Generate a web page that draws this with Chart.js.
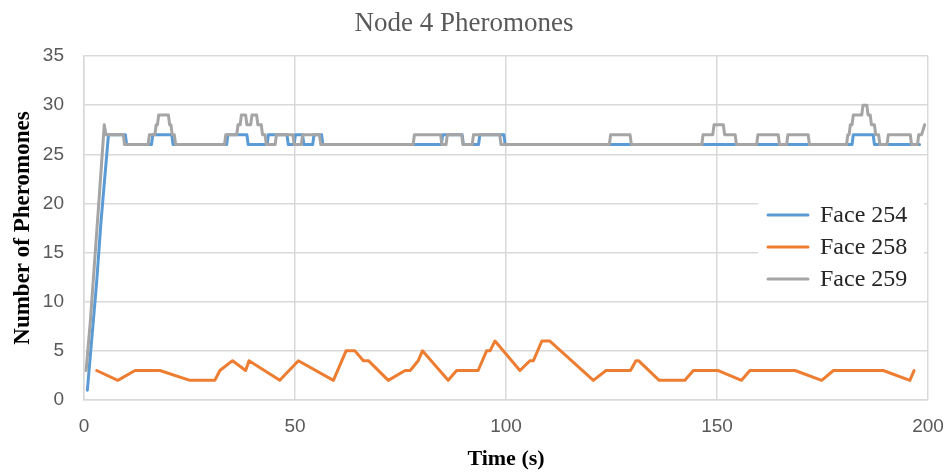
<!DOCTYPE html>
<html>
<head>
<meta charset="utf-8">
<script src="https://cdn.jsdelivr.net/npm/chart.js"></script>
<style>
  html, body { margin: 0; padding: 0; background: #fff; }
  #wrap { width: 952px; height: 476px; }
</style>
</head>
<body>
<div id="wrap"><canvas id="chart" width="952" height="476"></canvas></div>
<script>
// values, [time (s), pheromones]
const face254 = [
  [0.8, 1], [2, 7], [3, 12], [4, 18], [5, 23], [5.8, 27], [9.8, 27], [10.1, 26],
  [16, 26], [16.3, 27], [20.8, 27], [21.1, 26], [33.8, 26], [34.1, 27], [38.6, 27], [38.9, 26],
  [43.4, 26], [43.7, 27], [48.1, 27], [48.4, 26], [49.8, 26], [50.1, 27], [51.8, 27], [52.1, 26],
  [54.2, 26], [54.5, 27], [56.3, 27], [56.6, 26], [84.7, 26], [85, 27], [89.6, 27], [89.9, 26],
  [93.5, 26], [93.8, 27], [99.5, 27], [99.8, 26], [182, 26], [182.3, 27], [187, 27], [187.3, 26],
  [198, 26]
];

const face258 = [
  [3, 3], [8, 2], [12.1, 3], [18, 3], [25.1, 2], [31, 2], [32.2, 3], [35.2, 4], [38.3, 3], [39.1, 4],
  [46.4, 2], [50.8, 4], [59.1, 2], [62.1, 5], [64.2, 5], [66.2, 4], [67.4, 4], [72.1, 2], [76.1, 3],
  [77.3, 3], [79.2, 4], [80.2, 5], [86.3, 2], [88.3, 3], [93.4, 3], [95.4, 5], [96.2, 5], [97.4, 6],
  [103.3, 3], [105.7, 4], [106.5, 4], [108.5, 6], [110.4, 6], [120.7, 2], [123.7, 3], [129.5, 3],
  [130.8, 4], [131.4, 4], [136.3, 2], [142.4, 2], [144.4, 3], [150.3, 3], [155.8, 2], [157.8, 3],
  [168.5, 3], [174.8, 2], [177.6, 3], [189.4, 3], [195.7, 2], [196.7, 3]
];

const face259 = [
  [0.5, 3], [1.5, 8], [2.5, 14], [3.5, 20], [4.8, 28], [5.2, 27], [9.3, 27], [9.6, 26],
  [15.2, 26], [15.5, 27], [16.8, 27], [17.1, 28], [17.4, 28], [17.7, 29], [20, 29], [20.3, 28],
  [20.6, 28], [20.9, 27], [21.4, 27], [21.7, 26], [33.3, 26], [33.6, 27], [36.2, 27], [36.5, 28],
  [37, 28], [37.3, 29], [38.3, 29], [38.6, 28], [39.5, 28], [39.8, 29], [40.9, 29], [41.2, 28],
  [42, 28], [42.3, 27], [42.9, 27], [43.2, 26], [45.3, 26], [45.6, 27], [49.5, 27], [49.8, 26],
  [51.5, 26], [51.8, 27], [55.8, 27], [56.1, 26], [78, 26], [78.3, 27], [84.5, 27], [84.8, 26],
  [85.8, 26], [86.1, 27], [89.5, 27], [89.8, 26], [92, 26], [92.3, 27], [98.5, 27], [98.8, 26],
  [124.5, 26], [124.8, 27], [129.4, 27], [129.7, 26], [146.4, 26], [146.7, 27], [149, 27], [149.3, 28],
  [151.5, 28], [151.8, 27], [154.3, 27], [154.6, 26], [159.4, 26], [159.7, 27], [164.5, 27], [164.8, 26],
  [166.5, 26], [166.8, 27], [171.6, 27], [171.9, 26], [180.7, 26], [181, 27], [181.3, 27], [181.6, 28],
  [182, 28], [182.3, 29], [184.3, 29], [184.6, 30], [185.5, 30], [185.8, 29], [186.3, 29], [186.6, 28],
  [187.3, 28], [187.6, 27], [188.3, 27], [188.6, 26], [190.3, 26], [190.6, 27], [195.8, 27], [196.1, 26],
  [197.5, 26], [197.8, 27], [198.5, 27], [199.2, 28]
];

const seriesNames = ['Face 254', 'Face 258', 'Face 259'];
const seriesColors = ['#5B9BD5', '#ED7D31', '#A5A5A5'];
const xTicks = [0, 50, 100, 150, 200];
const yTicks = [0, 5, 10, 15, 20, 25, 30, 35];

const toPoints = arr => arr.map(p => ({ x: p[0], y: p[1] }));

const gridColor = '#D9D9D9';
const serif = "'Liberation Serif', 'Times New Roman', serif";
const sans = "'Liberation Sans', Arial, sans-serif";

// legend drawn inside the plot, with a white box behind it
const boxLegend = {
  id: 'boxLegend',
  afterDraw(chart) {
    const ctx = chart.ctx;
    const x0 = 758, y0 = 192, w = 166, rowH = 32;
    ctx.save();
    ctx.fillStyle = '#fff';
    ctx.fillRect(x0, y0, w, rowH * 3 + 8);
    ctx.font = '24px ' + serif;
    ctx.textBaseline = 'middle';
    chart.data.datasets.forEach((ds, i) => {
      const cy = y0 + 23 + i * rowH;
      ctx.strokeStyle = ds.borderColor;
      ctx.lineWidth = 3;
      ctx.lineCap = 'round';
      ctx.beginPath();
      ctx.moveTo(x0 + 10, cy);
      ctx.lineTo(x0 + 50, cy);
      ctx.stroke();
      ctx.fillStyle = '#262626';
      ctx.fillText(ds.label, x0 + 62, cy + 1);
    });
    ctx.restore();
  }
};

const datasets = [face254, face258, face259].map((arr, i) => ({
  label: seriesNames[i],
  data: toPoints(arr),
  borderColor: seriesColors[i],
  backgroundColor: seriesColors[i],
  borderWidth: 3,
  borderJoinStyle: 'round',
  borderCapStyle: 'round',
  pointRadius: 0,
  tension: 0,
  fill: false,
  order: 2 - i
}));

new Chart(document.getElementById('chart'), {
  type: 'line',
  data: { datasets: datasets },
  options: {
    responsive: false,
    animation: false,
    layout: { padding: { left: 0, right: 24, top: 0, bottom: 3 } },
    plugins: {
      legend: { display: false },
      tooltip: { enabled: false },
      title: {
        display: true,
        text: 'Node 4 Pheromones',
        color: '#595959',
        font: { family: serif, size: 27, weight: 'normal' },
        padding: { top: 8, bottom: 15.6 }
      }
    },
    scales: {
      x: {
        type: 'linear',
        min: 0,
        max: 200,
        afterBuildTicks: s => { s.ticks = xTicks.map(v => ({ value: v })); },
        afterFit: s => { s.height = 73; s.paddingRight = 0; s.paddingLeft = 0; },
        grid: { color: gridColor, lineWidth: 1.5, drawTicks: false },
        border: { color: gridColor, width: 1.5 },
        ticks: { color: '#595959', font: { family: sans, size: 19 }, padding: 15, maxRotation: 0 },
        title: {
          display: true,
          text: 'Time (s)',
          color: '#000',
          font: { family: serif, size: 22, weight: 'bold' },
          padding: { top: 0, bottom: 0 }
        }
      },
      y: {
        min: 0,
        max: 35,
        afterBuildTicks: s => { s.ticks = yTicks.map(v => ({ value: v })); },
        afterFit: s => { s.width = 84; },
        grid: { color: gridColor, lineWidth: 1.5, drawTicks: false },
        border: { color: gridColor, width: 1.5 },
        ticks: { color: '#595959', font: { family: sans, size: 19 }, padding: 20 },
        title: {
          display: true,
          text: 'Number of Pheromones',
          color: '#000',
          font: { family: serif, size: 23, weight: 'bold' },
          padding: { top: 9, bottom: 0 }
        }
      }
    }
  },
  plugins: [boxLegend]
});
</script>
</body>
</html>
